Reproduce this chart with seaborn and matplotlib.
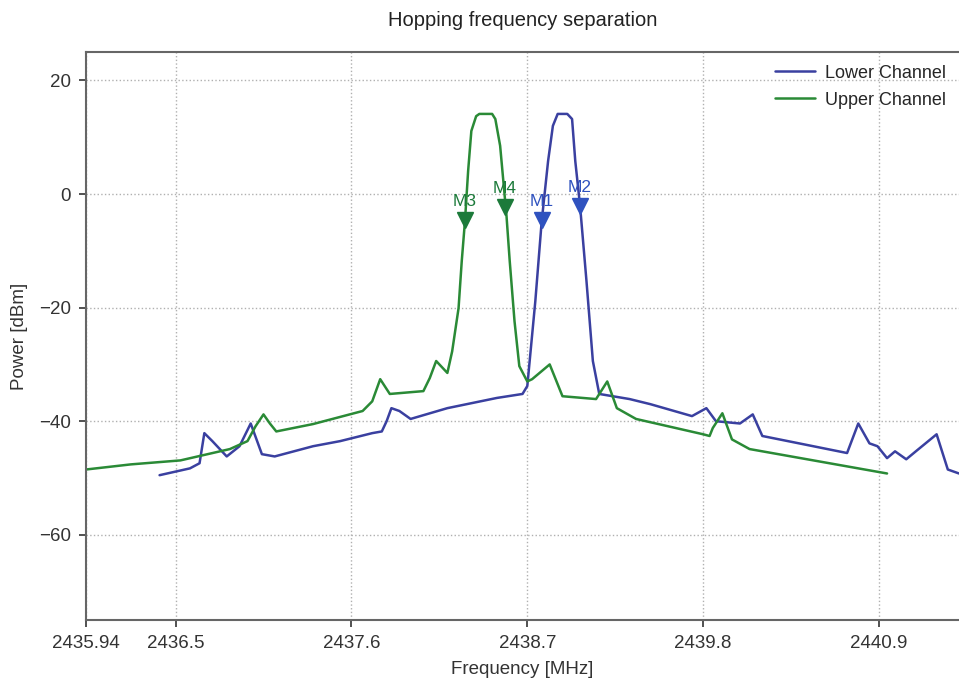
import numpy as np
import pandas as pd
import matplotlib
matplotlib.use("Agg")
import matplotlib.pyplot as plt
import seaborn as sns

# traced spectrum, lower channel (MHz, dBm)
lower_freq = [2436.40, 2436.59, 2436.65, 2436.68, 2436.73, 2436.82, 2436.90, 2436.97,
              2437.04, 2437.12, 2437.36, 2437.53, 2437.73, 2437.79, 2437.82, 2437.85,
              2437.90, 2437.97, 2438.20, 2438.51, 2438.67, 2438.70, 2438.75, 2438.79,
              2438.83, 2438.86, 2438.89, 2438.95, 2438.98, 2439.00, 2439.03, 2439.07,
              2439.11, 2439.15, 2439.34, 2439.47, 2439.73, 2439.82, 2439.88, 2440.03,
              2440.11, 2440.17, 2440.40, 2440.70, 2440.77, 2440.84, 2440.89, 2440.95,
              2441.00, 2441.07, 2441.13, 2441.26, 2441.33, 2441.40]
lower_power = [-49.5, -48.3, -47.4, -42.1, -43.5, -46.2, -44.4, -40.4,
               -45.8, -46.2, -44.4, -43.5, -42.1, -41.8, -40.0, -37.7,
               -38.2, -39.6, -37.7, -35.9, -35.2, -33.8, -18.9, -4.8,
               5.8, 12.0, 14.1, 14.1, 13.2, 5.8, -2.1, -15.3,
               -29.4, -35.2, -36.1, -37.0, -39.1, -37.7, -40.0, -40.4,
               -38.8, -42.6, -43.9, -45.6, -40.4, -43.9, -44.4, -46.5,
               -45.3, -46.7, -45.3, -42.3, -48.5, -49.2]

# traced spectrum, upper channel (MHz, dBm)
upper_freq = [2435.94, 2436.22, 2436.53, 2436.84, 2436.95, 2437.00, 2437.05, 2437.09,
              2437.13, 2437.36, 2437.67, 2437.73, 2437.78, 2437.84, 2438.05, 2438.09,
              2438.13, 2438.20, 2438.23, 2438.27, 2438.29, 2438.31, 2438.33, 2438.35,
              2438.38, 2438.40, 2438.48, 2438.50, 2438.53, 2438.55, 2438.57, 2438.59,
              2438.62, 2438.65, 2438.70, 2438.73, 2438.84, 2438.92, 2439.13, 2439.20,
              2439.26, 2439.38, 2439.80, 2439.84, 2439.86, 2439.92, 2439.98, 2440.09,
              2440.51, 2440.95]
upper_power = [-48.5, -47.6, -46.9, -44.9, -43.5, -40.9, -38.8, -40.4,
               -41.8, -40.5, -38.2, -36.5, -32.6, -35.2, -34.7, -32.4,
               -29.4, -31.5, -27.7, -20.1, -11.8, -4.8, 4.1, 11.1,
               13.7, 14.1, 14.1, 13.2, 8.5, 2.3, -3.9, -11.8,
               -22.4, -30.3, -33.0, -32.6, -30.0, -35.6, -36.1, -33.0,
               -37.7, -39.6, -42.3, -42.6, -41.2, -38.6, -43.2, -44.9,
               -47.0, -49.2]

# markers
marker_names = ["M1", "M2", "M3", "M4"]
marker_freq = [2438.79, 2439.03, 2438.31, 2438.56]
marker_power = [-4.6, -2.1, -4.6, -2.3]
marker_channel = ["lower", "lower", "upper", "upper"]

xticks = [2435.94, 2436.5, 2437.6, 2438.7, 2439.8, 2440.9]
xtick_labels = ["2435.94", "2436.5", "2437.6", "2438.7", "2439.8", "2440.9"]
yticks = [-60, -40, -20, 0, 20]

line_colors = {"lower": "#3a40a0", "upper": "#2a8a36"}
mark_colors = {"lower": "#2f52bf", "upper": "#1c7a3a"}

sns.set_theme(style="white")
plt.rcParams["font.family"] = ["Liberation Sans", "DejaVu Sans"]

fig = plt.figure(figsize=(9.59, 6.78), dpi=100)
ax = fig.add_axes([0.0897, 0.0855, 0.9103, 0.8378])

lower_df = pd.DataFrame({"freq": lower_freq, "power": lower_power})
upper_df = pd.DataFrame({"freq": upper_freq, "power": upper_power})

sns.lineplot(data=lower_df, x="freq", y="power", ax=ax, color=line_colors["lower"],
             lw=1.8, sort=False, estimator=None, label="Lower Channel")
sns.lineplot(data=upper_df, x="freq", y="power", ax=ax, color=line_colors["upper"],
             lw=1.8, sort=False, estimator=None, label="Upper Channel")

for name, f, p, ch in zip(marker_names, marker_freq, marker_power, marker_channel):
    ax.plot(f, p, marker="v", color=mark_colors[ch], markersize=11, linestyle="none")
    ax.annotate(name, (f, p), xytext=(0, 8), textcoords="offset points",
                ha="center", va="bottom", color=mark_colors[ch], fontsize=12.5)

ax.set_xlim(2435.94, 2441.40)
ax.set_ylim(-75, 25)
ax.set_xticks(xticks)
ax.set_xticklabels(xtick_labels)
ax.set_yticks(yticks)
ax.tick_params(labelsize=13.5, length=5, width=1.2, pad=6, colors="#333333",
               bottom=True, left=True)
ax.grid(True, linestyle=":", color="#b0b0b0", lw=1.0)

for side in ["left", "bottom", "top"]:
    ax.spines[side].set_color("#666666")
    ax.spines[side].set_linewidth(1.5)
ax.spines["right"].set_visible(False)

ax.set_xlabel("Frequency [MHz]", fontsize=13.5, color="#333333", labelpad=6)
ax.set_ylabel("Power [dBm]", fontsize=13.5, color="#333333", labelpad=8)
ax.set_title("Hopping frequency separation", fontsize=14.5, color="#222222", pad=19)

ax.legend(loc="upper right", frameon=False, fontsize=13, handlelength=2.2,
          handletextpad=0.6, borderaxespad=0.3, labelspacing=0.55)

fig.savefig("out.png", dpi=100)
